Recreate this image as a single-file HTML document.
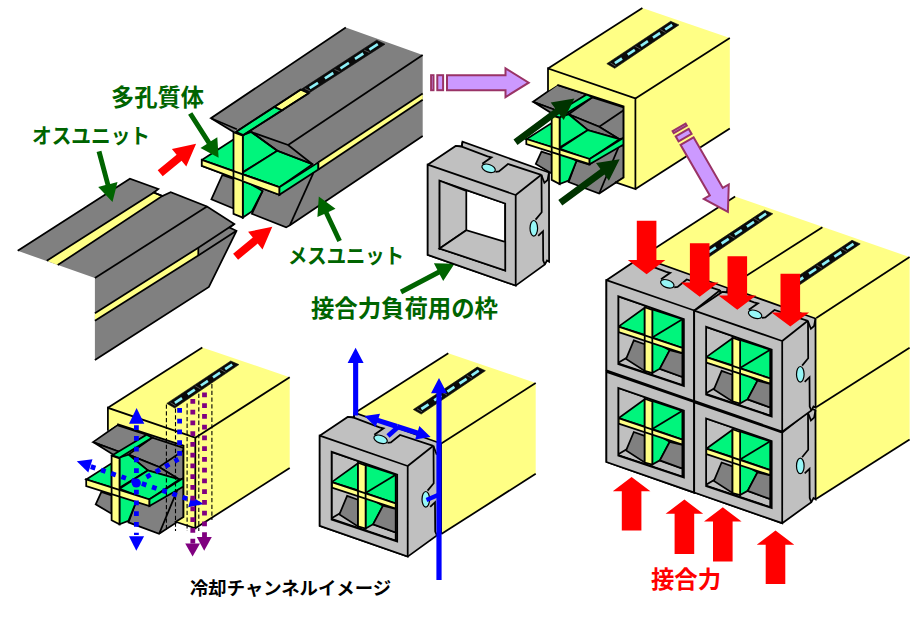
<!DOCTYPE html>
<html><head><meta charset="utf-8"><title>fig</title><style>html,body{margin:0;padding:0;background:#fff;font-family:"Liberation Sans",sans-serif}svg{display:block;position:absolute;left:0;top:0}</style></head><body>
<svg width="923" height="619" viewBox="0 0 923 619" stroke-linejoin="miter" stroke-miterlimit="3">
<rect width="923" height="619" fill="#fff"/>
<polygon points="17.7,250.8 129.9,178.7 158.3,189.0 153.8,192.5 162.3,196.0 170.7,192.3 207.0,206.5 234.3,224.1 229.5,227.5 236.5,230.8 208.9,287.0 94.9,360.0 94.9,278.1" fill="#808080" stroke="none" stroke-width="1.75" />
<polygon points="46.8,260.7 153.8,192.5 162.3,196.0 57.7,265.1" fill="#FFFF85" stroke="none" stroke-width="1.75" />
<polygon points="94.9,313.3 198.3,248.2 198.3,255.5 94.9,320.8" fill="#FFFF85" stroke="none" stroke-width="1.75" />
<polyline points="17.7,250.8 129.9,178.7 158.3,189.0 153.8,192.5 162.3,196.0 170.7,192.3 207.0,206.5 234.3,224.1 229.5,227.5 236.5,230.8 208.9,287.0 94.9,360.0" fill="none" stroke="#000" stroke-width="1.75" />
<polyline points="46.8,260.7 153.8,192.5 162.3,196.0 57.7,265.1" fill="none" stroke="#000" stroke-width="1.75" />
<polyline points="94.9,278.1 207.0,206.5" fill="none" stroke="#000" stroke-width="1.75" />
<polyline points="94.9,313.3 198.3,247.7 234.3,224.1" fill="none" stroke="#000" stroke-width="1.75" />
<polyline points="94.9,320.8 198.3,255.5 236.5,230.8" fill="none" stroke="#000" stroke-width="1.75" />
<polyline points="198.3,247.9 198.3,255.3" fill="none" stroke="#000" stroke-width="1.75" />
<polygon points="288.1,145.0 422.7,55.1 422.7,136.0 289.9,225.2 286.1,227.4 251.9,213.8 259.0,186.0 279.3,190.0 318.4,166.0 318.4,162.3 312.5,164.2" fill="#808080" stroke="none" stroke-width="1.75" />
<polygon points="211.0,118.2 345.8,27.4 422.7,55.1 288.1,145.0 251.3,132.0 242.8,135.1 236.9,129.3" fill="#808080" stroke="none" stroke-width="1.75" />
<polygon points="211.0,118.2 236.9,129.3 234.0,132.2" fill="#787878" stroke="none" stroke-width="1.75" />
<polygon points="251.3,132.0 288.1,145.0 312.5,164.2 277.3,150.8" fill="#787878" stroke="none" stroke-width="1.75" />
<polygon points="222.3,175.0 233.5,178.8 233.5,208.5 211.4,199.3" fill="#808080" stroke="#000" stroke-width="1.75" />
<polygon points="242.8,135.1 251.3,132.0 277.3,150.8 243.7,171.5 242.8,171.0" fill="#00F57C" stroke="#000" stroke-width="1.75" />
<polygon points="201.8,159.9 233.5,139.5 233.5,171.0" fill="#00F57C" stroke="none" stroke-width="1.75" />
<polygon points="242.8,172.5 277.3,150.8 312.5,164.2 279.3,187.2 242.8,174.3" fill="#00F57C" stroke="#000" stroke-width="1.75" />
<polygon points="242.8,179.6 262.6,191.0 251.9,211.5 242.8,217.6" fill="#00F57C" stroke="#000" stroke-width="1.75" />
<polygon points="201.8,159.9 279.3,187.2 279.3,194.8 201.8,165.9" fill="#FFFF85" stroke="#000" stroke-width="1.75" />
<polygon points="279.3,187.2 318.4,162.3 318.4,169.5 279.3,194.8" fill="#00F57C" stroke="#000" stroke-width="1.75" />
<polygon points="318.4,162.3 422.7,93.4 422.7,99.8 318.4,169.5" fill="#FFFF85" stroke="none" stroke-width="1.75" />
<polyline points="318.4,162.3 422.7,93.4" fill="none" stroke="#000" stroke-width="1.75" />
<polyline points="318.4,169.5 422.7,99.8" fill="none" stroke="#000" stroke-width="1.75" />
<polyline points="318.4,162.3 318.4,169.5" fill="none" stroke="#000" stroke-width="1.75" />
<polygon points="235.8,131.9 274.3,106.9 282.1,110.3 243.4,135.1" fill="#00F57C" stroke="#000" stroke-width="1.75" />
<polygon points="274.3,106.9 300.8,89.6 308.7,93.2 282.1,110.3" fill="#FFFF85" stroke="#000" stroke-width="1.75" />
<polygon points="300.8,89.6 376.7,40.2 385.0,44.2 308.7,93.2" fill="#0a0a0a" stroke="#0a0a0a" stroke-width="0.6" />
<polyline points="304.8,88.5 309.9,90.8" fill="none" stroke="#777" stroke-width="0.7" />
<polyline points="334.5,69.4 339.6,71.6" fill="none" stroke="#777" stroke-width="0.7" />
<polyline points="364.2,50.2 369.3,52.4" fill="none" stroke="#777" stroke-width="0.7" />
<polyline points="309.7,88.2 318.0,82.8" fill="none" stroke="#8EF0F8" stroke-width="2.7" />
<polyline points="324.9,78.4 333.3,73.0" fill="none" stroke="#8EF0F8" stroke-width="2.7" />
<polyline points="340.5,68.3 348.9,62.9" fill="none" stroke="#8EF0F8" stroke-width="2.7" />
<polyline points="355.0,58.9 363.3,53.5" fill="none" stroke="#8EF0F8" stroke-width="2.7" />
<polyline points="369.4,49.6 377.8,44.2" fill="none" stroke="#8EF0F8" stroke-width="2.7" />
<polyline points="235.8,131.9 300.8,89.6" fill="none" stroke="#000" stroke-width="1.75" />
<polyline points="243.4,135.1 308.7,93.2" fill="none" stroke="#000" stroke-width="1.75" />
<polygon points="233.5,132.2 242.8,135.7 242.8,217.6 233.5,213.8" fill="#FFFF85" stroke="#000" stroke-width="1.75" />
<polygon points="201.8,159.9 279.3,187.2 279.3,194.8 201.8,165.9" fill="#FFFF85" stroke="#000" stroke-width="1.75" />
<polyline points="233.5,171.0 233.5,177.2" fill="none" stroke="#000" stroke-width="1.75" />
<polyline points="242.8,174.3 242.8,180.5" fill="none" stroke="#000" stroke-width="1.75" />
<polyline points="345.8,27.4 211.0,118.2 236.9,129.3" fill="none" stroke="#000" stroke-width="1.75" />
<polyline points="211.0,118.2 234.0,132.2" fill="none" stroke="#000" stroke-width="1.75" />
<polyline points="251.3,132.0 288.1,145.0 312.5,164.2" fill="none" stroke="#000" stroke-width="1.75" />
<polyline points="251.3,132.0 277.3,150.8 312.5,164.2" fill="none" stroke="#000" stroke-width="1.75" />
<polyline points="288.1,145.0 422.7,55.1" fill="none" stroke="#000" stroke-width="1.75" />
<polyline points="422.7,136.0 289.9,225.2 286.1,227.4 251.9,213.8 262.6,191.0" fill="none" stroke="#000" stroke-width="1.75" />
<polyline points="313.4,172.8 289.9,225.2" fill="none" stroke="#000" stroke-width="1.75" />
<polyline points="201.8,159.9 233.5,139.5" fill="none" stroke="#000" stroke-width="1.75" />
<polygon points="162.7,176.3 181.6,160.8 186.3,166.5 196.1,143.8 171.9,149.0 176.6,154.8 157.7,170.3" fill="#FF0000" stroke="none" stroke-width="1.75" />
<polygon points="238.1,259.7 257.7,243.6 262.5,249.4 272.3,226.7 248.1,231.8 252.8,237.6 233.1,253.7" fill="#FF0000" stroke="none" stroke-width="1.75" />
<polygon points="188.1,114.8 206.8,143.9 200.5,148.0 218.6,157.7 217.3,137.2 210.9,141.2 192.3,112.2" fill="#006400" stroke="none" stroke-width="1.75" />
<polygon points="96.6,151.9 105.5,185.1 98.2,187.1 112.5,201.9 117.5,181.9 110.2,183.9 101.4,150.7" fill="#006400" stroke="none" stroke-width="1.75" />
<polygon points="341.8,240.1 328.6,211.9 335.5,208.7 318.8,196.6 317.4,217.1 324.2,213.9 337.4,242.1" fill="#006400" stroke="none" stroke-width="1.75" />
<polygon points="402.1,294.2 439.7,274.4 443.2,281.0 454.5,263.8 433.9,263.3 437.4,270.0 399.9,289.8" fill="#006400" stroke="none" stroke-width="1.75" />
<g transform="translate(0.0,0.0)" >
<path d="M427.7,164.7 L455.7,146 L461.8,146.3 L462.5,141.8 L549,172.5 L549.1,261.8 L547,260.5 L544.9,264.5 L515.7,285.6 L427.7,254.9 Z M439.6,180.8 L439.6,248.5 L505.2,270.5 L505.2,203.5 Z" fill="#C0C0C0" stroke="#000" stroke-width="1.75" fill-rule="evenodd"/>
<polyline points="455.7,146.0 461.8,146.6 487.5,156.4 491.5,157.3 482.3,163.8" fill="none" stroke="#000" stroke-width="1.75" />
<polyline points="461.8,146.6 462.5,141.8" fill="none" stroke="#000" stroke-width="1.75" />
<polyline points="495.5,171.8 498.9,171.4 508.0,164.0 541.3,174.8" fill="none" stroke="#000" stroke-width="1.75" />
<polyline points="541.3,174.8 544.4,182.8 547.6,180.0 549.0,172.5" fill="none" stroke="#000" stroke-width="1.75" />
<polyline points="541.5,174.8 541.7,212.2 535.6,219.6" fill="none" stroke="#000" stroke-width="1.75" />
<polyline points="538.2,235.8 543.0,231.2 543.2,260.5 544.9,264.5" fill="none" stroke="#000" stroke-width="1.75" />
<polyline points="515.7,195.0 541.3,174.8" fill="none" stroke="#000" stroke-width="1.75" />
<path d="M427.7,164.7 L515.7,195 L515.7,285.6 L427.7,254.9 Z M439.6,180.8 L439.6,248.5 L505.2,270.5 L505.2,203.5 Z" fill="#C0C0C0" stroke="#000" stroke-width="1.75" fill-rule="evenodd"/>
<polygon points="439.6,180.8 466.3,190.9 466.3,230.2 439.6,248.5" fill="#C0C0C0" stroke="#000" stroke-width="1.75" />
<polygon points="439.6,248.5 466.3,230.2 505.2,242.0 505.2,270.5" fill="#C0C0C0" stroke="#000" stroke-width="1.75" />
<ellipse cx="488.6" cy="168.3" rx="7" ry="3.8" transform="rotate(20 488.6 168.3)" fill="#96F6F6" stroke="#000" stroke-width="1.2"/>
<ellipse cx="533.8" cy="228.3" rx="3.8" ry="7.8" fill="#96F6F6" stroke="#000" stroke-width="1.2"/>
</g>
<polygon points="548.0,68.5 642.4,8.1 729.8,38.0 635.4,98.4" fill="#FFFF85" stroke="none" stroke-width="1.75" />
<polygon points="635.4,98.4 729.8,38.0 729.8,128.6 635.4,189.0" fill="#FFFF85" stroke="none" stroke-width="1.75" />
<polyline points="548.0,68.5 642.4,8.1" fill="none" stroke="#000" stroke-width="1.75" />
<polyline points="635.4,98.4 729.8,38.0" fill="none" stroke="#000" stroke-width="1.75" />
<polyline points="729.8,128.6 635.4,189.0" fill="none" stroke="#000" stroke-width="1.75" />
<g transform="translate(0.0,0.0)" >
<polygon points="557.3,84.9 623.6,106.4 623.6,177.6 615.0,183.0 557.3,163.0" fill="#808080" stroke="none" stroke-width="1.75" />
</g>
<g transform="translate(0.0,0.0)" >
<polygon points="533.1,101.8 557.3,84.9 586.7,94.4 560.7,112.0" fill="#808080" stroke="#000" stroke-width="1.75" />
<polygon points="533.1,101.8 560.7,112.0 556.2,116.1" fill="#787878" stroke="#000" stroke-width="1.75" />
<polygon points="568.6,114.3 592.4,97.3 623.6,107.5 623.6,138.0 619.5,139.2 599.2,126.7" fill="#808080" stroke="#000" stroke-width="1.75" />
<polygon points="568.6,114.3 599.2,126.7 619.5,139.2 587.9,130.1" fill="#787878" stroke="#000" stroke-width="1.75" />
<polyline points="599.2,126.7 623.6,110.2" fill="none" stroke="#000" stroke-width="1.75" />
<polygon points="559.6,117.0 568.6,114.3 587.9,130.1 559.6,147.5" fill="#00F57C" stroke="#000" stroke-width="1.75" />
<polygon points="526.3,139.2 551.7,123.0 551.7,147.0" fill="#00F57C" stroke="#000" stroke-width="1.75" />
<polygon points="559.6,148.5 587.9,130.1 619.5,139.2 589.0,159.5" fill="#00F57C" stroke="#000" stroke-width="1.75" />
<polygon points="541.5,151.6 551.7,155.0 551.7,173.5 535.8,164.0" fill="#808080" stroke="#000" stroke-width="1.75" />
<polygon points="576.5,160.7 589.0,164.5 619.5,144.8 623.6,146.0 623.6,177.6 599.2,193.5 568.6,182.1" fill="#808080" stroke="#000" stroke-width="1.75" />
<polyline points="619.5,144.8 599.2,193.5" fill="none" stroke="#000" stroke-width="1.75" />
<polygon points="559.6,152.0 576.5,160.7 568.6,180.5 559.6,184.0" fill="#00F57C" stroke="#000" stroke-width="1.75" />
<polygon points="552.5,115.0 586.7,94.4 592.4,97.3 559.6,117.5" fill="#00F57C" stroke="#000" stroke-width="1.75" />
<polygon points="551.7,115.4 559.6,118.0 559.6,184.0 551.7,179.9" fill="#FFFF85" stroke="#000" stroke-width="1.75" />
<polygon points="526.3,139.0 589.6,159.0 589.6,164.2 526.3,144.2" fill="#FFFF85" stroke="#000" stroke-width="1.75" />
<polygon points="589.6,159.0 623.6,137.8 623.6,144.6 589.6,164.2" fill="#00F57C" stroke="#000" stroke-width="1.75" />
<polyline points="551.7,147.0 551.7,152.6" fill="none" stroke="#000" stroke-width="1.75" />
<polyline points="559.6,149.5 559.6,155.1" fill="none" stroke="#000" stroke-width="1.75" />
</g>
<g transform="translate(0.0,0.0)" >
<path d="M548,68.5 L635.4,98.4 L635.4,189 L615,182.2 L623.6,177.6 L623.6,106.4 L557.3,84.9 L548,91 Z" fill="#FFFF85" stroke="none"/>
<polyline points="548.0,91.4 548.0,68.5 635.4,98.4 635.4,189.0 615.0,182.2" fill="none" stroke="#000" stroke-width="1.75" />
<polyline points="557.3,84.9 623.6,106.4 623.6,177.6 615.0,183.0" fill="none" stroke="#000" stroke-width="1.75" />
</g>
<polygon points="606.8,63.7 670.7,21.3 678.9,24.9 614.7,68.3" fill="#0a0a0a" stroke="#0a0a0a" stroke-width="0.6" />
<polyline points="610.5,63.0 615.5,66.0" fill="none" stroke="#777" stroke-width="0.7" />
<polyline points="635.4,46.3 640.5,49.2" fill="none" stroke="#777" stroke-width="0.7" />
<polyline points="660.4,29.6 665.5,32.5" fill="none" stroke="#777" stroke-width="0.7" />
<polyline points="614.9,63.2 622.0,58.5" fill="none" stroke="#8EF0F8" stroke-width="2.7" />
<polyline points="627.7,54.6 634.8,49.9" fill="none" stroke="#8EF0F8" stroke-width="2.7" />
<polyline points="640.9,45.8 647.9,41.1" fill="none" stroke="#8EF0F8" stroke-width="2.7" />
<polyline points="653.0,37.7 660.1,33.0" fill="none" stroke="#8EF0F8" stroke-width="2.7" />
<polyline points="665.2,29.5 672.2,24.8" fill="none" stroke="#8EF0F8" stroke-width="2.7" />
<polygon points="517.5,144.9 559.2,114.1 563.7,120.1 574.4,98.6 550.7,102.5 555.2,108.6 513.5,139.5" fill="#003300" stroke="none" stroke-width="1.75" />
<polygon points="562.3,205.5 604.5,174.6 608.9,180.7 619.7,159.2 596.0,163.0 600.4,169.1 558.3,200.1" fill="#003300" stroke="none" stroke-width="1.75" />
<g transform="translate(430.1,82.7) rotate(0.0)" fill="#CC99FF" stroke="#993366" stroke-width="2" stroke-miterlimit="6">
<rect x="1" y="-7.5" width="2.4" height="15"/>
<rect x="7.2" y="-7.5" width="5.8" height="15"/>
<polygon points="16.9,-7.5 75.4,-7.5 75.4,-14.4 98.6,0 75.4,14.4 75.4,7.5 16.9,7.5"/>
</g>
<polygon points="107.9,407.8 202.3,347.4 289.7,377.3 195.3,437.7" fill="#FFFF85" stroke="none" stroke-width="1.75" />
<polygon points="195.3,437.7 289.7,377.3 289.7,467.9 195.3,528.3" fill="#FFFF85" stroke="none" stroke-width="1.75" />
<polyline points="107.9,407.8 202.3,347.4" fill="none" stroke="#000" stroke-width="1.75" />
<polyline points="195.3,437.7 289.7,377.3" fill="none" stroke="#000" stroke-width="1.75" />
<polyline points="289.7,467.9 195.3,528.3" fill="none" stroke="#000" stroke-width="1.75" />
<g transform="translate(-440.1,339.3)" >
<polygon points="557.3,84.9 623.6,106.4 623.6,177.6 615.0,183.0 557.3,163.0" fill="#808080" stroke="none" stroke-width="1.75" />
</g>
<g transform="translate(-440.1,340.3)" >
<polygon points="533.1,101.8 557.3,84.9 586.7,94.4 560.7,112.0" fill="#808080" stroke="#000" stroke-width="1.75" />
<polygon points="533.1,101.8 560.7,112.0 556.2,116.1" fill="#787878" stroke="#000" stroke-width="1.75" />
<polygon points="568.6,114.3 592.4,97.3 623.6,107.5 623.6,138.0 619.5,139.2 599.2,126.7" fill="#808080" stroke="#000" stroke-width="1.75" />
<polygon points="568.6,114.3 599.2,126.7 619.5,139.2 587.9,130.1" fill="#787878" stroke="#000" stroke-width="1.75" />
<polyline points="599.2,126.7 623.6,110.2" fill="none" stroke="#000" stroke-width="1.75" />
<polygon points="559.6,117.0 568.6,114.3 587.9,130.1 559.6,147.5" fill="#00F57C" stroke="#000" stroke-width="1.75" />
<polygon points="526.3,139.2 551.7,123.0 551.7,147.0" fill="#00F57C" stroke="#000" stroke-width="1.75" />
<polygon points="559.6,148.5 587.9,130.1 619.5,139.2 589.0,159.5" fill="#00F57C" stroke="#000" stroke-width="1.75" />
<polygon points="541.5,151.6 551.7,155.0 551.7,173.5 535.8,164.0" fill="#808080" stroke="#000" stroke-width="1.75" />
<polygon points="576.5,160.7 589.0,164.5 619.5,144.8 623.6,146.0 623.6,177.6 599.2,193.5 568.6,182.1" fill="#808080" stroke="#000" stroke-width="1.75" />
<polyline points="619.5,144.8 599.2,193.5" fill="none" stroke="#000" stroke-width="1.75" />
<polygon points="559.6,152.0 576.5,160.7 568.6,180.5 559.6,184.0" fill="#00F57C" stroke="#000" stroke-width="1.75" />
<polygon points="552.5,115.0 586.7,94.4 592.4,97.3 559.6,117.5" fill="#00F57C" stroke="#000" stroke-width="1.75" />
<polygon points="551.7,115.4 559.6,118.0 559.6,184.0 551.7,179.9" fill="#FFFF85" stroke="#000" stroke-width="1.75" />
<polygon points="526.3,139.0 589.6,159.0 589.6,165.8 526.3,145.8" fill="#FFFF85" stroke="#000" stroke-width="1.75" />
<polygon points="589.6,159.0 623.6,137.8 623.6,146.2 589.6,165.8" fill="#00F57C" stroke="#000" stroke-width="1.75" />
<polyline points="551.7,147.0 551.7,154.2" fill="none" stroke="#000" stroke-width="1.75" />
<polyline points="559.6,149.5 559.6,156.7" fill="none" stroke="#000" stroke-width="1.75" />
</g>
<g transform="translate(-440.1,339.3)" >
<path d="M548,68.5 L635.4,98.4 L635.4,189 L615,182.2 L623.6,177.6 L623.6,106.4 L557.3,84.9 L548,91 Z" fill="#FFFF85" stroke="none"/>
<polyline points="548.0,91.4 548.0,68.5 635.4,98.4 635.4,189.0 615.0,182.2" fill="none" stroke="#000" stroke-width="1.75" />
<polyline points="557.3,84.9 623.6,106.4 623.6,177.6 615.0,183.0" fill="none" stroke="#000" stroke-width="1.75" />
</g>
<polygon points="166.8,403.4 230.7,361.0 238.9,364.6 174.7,408.0" fill="#0a0a0a" stroke="#0a0a0a" stroke-width="0.6" />
<polyline points="170.5,402.7 175.5,405.7" fill="none" stroke="#777" stroke-width="0.7" />
<polyline points="195.4,386.0 200.5,388.9" fill="none" stroke="#777" stroke-width="0.7" />
<polyline points="220.4,369.3 225.5,372.2" fill="none" stroke="#777" stroke-width="0.7" />
<polyline points="174.9,402.9 182.0,398.2" fill="none" stroke="#8EF0F8" stroke-width="2.7" />
<polyline points="187.7,394.3 194.8,389.6" fill="none" stroke="#8EF0F8" stroke-width="2.7" />
<polyline points="200.9,385.5 207.9,380.8" fill="none" stroke="#8EF0F8" stroke-width="2.7" />
<polyline points="213.0,377.4 220.1,372.7" fill="none" stroke="#8EF0F8" stroke-width="2.7" />
<polyline points="225.2,369.2 232.2,364.5" fill="none" stroke="#8EF0F8" stroke-width="2.7" />
<polyline points="166.4,404.5 166.4,531.0" fill="none" stroke="#000" stroke-width="1.1" stroke-dasharray="4.3 2.4"/>
<polyline points="175.5,408.5 175.5,531.0" fill="none" stroke="#000" stroke-width="1.1" stroke-dasharray="4.3 2.4"/>
<polyline points="187.1,403.5 187.1,531.0" fill="none" stroke="#000" stroke-width="1.1" stroke-dasharray="4.3 2.4"/>
<polyline points="198.8,393.8 198.8,531.0" fill="none" stroke="#000" stroke-width="1.1" stroke-dasharray="4.3 2.4"/>
<polyline points="211.9,384.1 211.9,520.0" fill="none" stroke="#000" stroke-width="1.1" stroke-dasharray="4.3 2.4"/>
<polyline points="136.4,425.3 136.4,535.0" fill="none" stroke="#0000FF" stroke-width="4.8" stroke-dasharray="4.8 5.95"/>
<polygon points="136.6,408.1 144.3,423.8 129.0,423.8" fill="#0000FF" stroke="none" stroke-width="1.75" />
<polygon points="136.3,550.8 144.1,536.2 129.0,536.2" fill="#0000FF" stroke="none" stroke-width="1.75" />
<polyline points="90.8,466.6 192.0,500.3" fill="none" stroke="#0000FF" stroke-width="4.8" stroke-dasharray="4.8 5.95"/>
<polygon points="76.8,461.3 92.5,459.2 88.3,472.6" fill="#0000FF" stroke="none" stroke-width="1.75" />
<polygon points="203.8,504.0 191.2,496.4 188.2,507.2" fill="#0000FF" stroke="none" stroke-width="1.75" />
<polyline points="146.4,477.1 178.4,459.2" fill="none" stroke="#0000FF" stroke-width="4.8" stroke-dasharray="4.8 5.95"/>
<polyline points="179.6,407.9 179.6,457.0" fill="none" stroke="#0000FF" stroke-width="4.8" stroke-dasharray="4.8 5.95"/>
<circle cx="136.3" cy="483" r="4.6" fill="#0000FF"/>
<polyline points="192.8,399.0 192.8,545.0" fill="none" stroke="#800080" stroke-width="4.8" stroke-dasharray="4.8 5.95"/>
<polyline points="204.5,392.5 204.5,540.0" fill="none" stroke="#800080" stroke-width="4.8" stroke-dasharray="4.8 5.95"/>
<polygon points="192.6,556.6 185.2,543.5 200.0,543.5" fill="#800080" stroke="none" stroke-width="1.75" />
<polygon points="204.2,550.8 196.8,537.0 211.8,537.0" fill="#800080" stroke="none" stroke-width="1.75" />
<polygon points="353.9,413.6 448.3,353.2 535.7,383.1 441.3,443.5" fill="#FFFF85" stroke="none" stroke-width="1.75" />
<polygon points="441.3,443.5 535.7,383.1 535.7,473.7 441.3,534.1" fill="#FFFF85" stroke="none" stroke-width="1.75" />
<polygon points="353.9,413.6 441.3,443.5 441.3,534.1 353.9,504.2" fill="#FFFF85" stroke="none" stroke-width="1.75" />
<polyline points="353.9,413.6 448.3,353.2" fill="none" stroke="#000" stroke-width="1.75" />
<polyline points="441.3,443.5 535.7,383.1" fill="none" stroke="#000" stroke-width="1.75" />
<polyline points="535.7,473.7 441.3,534.1" fill="none" stroke="#000" stroke-width="1.75" />
<polygon points="413.3,409.5 477.2,367.1 485.4,370.7 421.2,414.1" fill="#0a0a0a" stroke="#0a0a0a" stroke-width="0.6" />
<polyline points="417.0,408.8 422.0,411.8" fill="none" stroke="#777" stroke-width="0.7" />
<polyline points="441.9,392.1 447.0,395.0" fill="none" stroke="#777" stroke-width="0.7" />
<polyline points="466.9,375.4 472.0,378.3" fill="none" stroke="#777" stroke-width="0.7" />
<polyline points="421.4,409.0 428.5,404.3" fill="none" stroke="#8EF0F8" stroke-width="2.7" />
<polyline points="434.2,400.4 441.3,395.7" fill="none" stroke="#8EF0F8" stroke-width="2.7" />
<polyline points="447.4,391.6 454.4,386.9" fill="none" stroke="#8EF0F8" stroke-width="2.7" />
<polyline points="459.5,383.5 466.6,378.8" fill="none" stroke="#8EF0F8" stroke-width="2.7" />
<polyline points="471.7,375.3 478.7,370.6" fill="none" stroke="#8EF0F8" stroke-width="2.7" />
<g transform="translate(-286.7,155.5)" >
<polygon points="617.4,296.1 682.4,317.9 682.4,385.0 617.4,363.2" fill="#C0C0C0" stroke="none" stroke-width="1.75" />
<polygon points="617.4,363.2 627.2,357.4 682.4,377.0 682.4,385.0" fill="#C0C0C0" stroke="#000" stroke-width="1.75" />
<polygon points="618.5,326.6 644.7,307.7 644.7,334.9" fill="#00F57C" stroke="#000" stroke-width="1.75" />
<polygon points="652.3,309.4 682.4,319.2 682.4,348.0 652.3,337.5" fill="#00F57C" stroke="#000" stroke-width="1.75" />
<polyline points="652.3,337.5 682.4,319.2" fill="none" stroke="#000" stroke-width="1.75" />
<polygon points="633.8,340.4 644.7,344.3 644.7,370.9 626.1,358.9" fill="#808080" stroke="#000" stroke-width="1.75" />
<polygon points="652.3,340.4 669.7,350.2 659.9,368.7 652.3,373.0" fill="#00F57C" stroke="#000" stroke-width="1.75" />
<polygon points="669.7,350.2 682.4,353.4 682.4,377.0 659.9,368.7" fill="#808080" stroke="#000" stroke-width="1.75" />
<polygon points="644.7,307.2 652.3,309.9 652.3,373.0 644.7,370.9" fill="#FFFF85" stroke="#000" stroke-width="1.75" />
<polygon points="618.5,326.6 682.4,348.0 682.4,353.0 618.5,332.1" fill="#FFFF85" stroke="#000" stroke-width="1.75" />
<polyline points="644.7,335.3 644.7,341.0" fill="none" stroke="#000" stroke-width="1.75" />
<polyline points="652.3,338.0 652.3,343.4" fill="none" stroke="#000" stroke-width="1.75" />
</g>
<g transform="translate(-108.0,271.0)" >
<path d="M427.7,164.7 L455.7,146 L461.8,146.3 L462.5,141.8 L549,172.5 L549.1,261.8 L547,260.5 L544.9,264.5 L515.7,285.6 L427.7,254.9 Z M439.6,180.8 L439.6,248.5 L505.2,270.5 L505.2,203.5 Z" fill="#C0C0C0" stroke="#000" stroke-width="1.75" fill-rule="evenodd"/>
<polyline points="455.7,146.0 461.8,146.6 487.5,156.4 491.5,157.3 482.3,163.8" fill="none" stroke="#000" stroke-width="1.75" />
<polyline points="461.8,146.6 462.5,141.8" fill="none" stroke="#000" stroke-width="1.75" />
<polyline points="495.5,171.8 498.9,171.4 508.0,164.0 541.3,174.8" fill="none" stroke="#000" stroke-width="1.75" />
<polyline points="541.3,174.8 544.4,182.8 547.6,180.0 549.0,172.5" fill="none" stroke="#000" stroke-width="1.75" />
<polyline points="541.5,174.8 541.7,212.2 535.6,219.6" fill="none" stroke="#000" stroke-width="1.75" />
<polyline points="538.2,235.8 543.0,231.2 543.2,260.5 544.9,264.5" fill="none" stroke="#000" stroke-width="1.75" />
<polyline points="515.7,195.0 541.3,174.8" fill="none" stroke="#000" stroke-width="1.75" />
<path d="M427.7,164.7 L515.7,195 L515.7,285.6 L427.7,254.9 Z M439.6,180.8 L439.6,248.5 L505.2,270.5 L505.2,203.5 Z" fill="#C0C0C0" stroke="#000" stroke-width="1.75" fill-rule="evenodd"/>
<ellipse cx="488.6" cy="168.3" rx="7" ry="3.8" transform="rotate(20 488.6 168.3)" fill="#96F6F6" stroke="#000" stroke-width="1.2"/>
<ellipse cx="533.8" cy="228.3" rx="3.8" ry="7.8" fill="#96F6F6" stroke="#000" stroke-width="1.2"/>
</g>
<polygon points="358.2,415.4 358.2,363.0 363.6,363.0 355.6,347.8 347.6,363.0 353.1,363.0 353.1,415.4" fill="#0000FF" stroke="none" stroke-width="1.75" />
<polygon points="441.6,580.0 441.6,393.3 447.0,393.3 439.0,378.1 431.0,393.3 436.4,393.3 436.4,580.0" fill="#0000FF" stroke="none" stroke-width="1.75" />
<polygon points="397.8,424.1 378.6,417.9 380.0,413.7 364.5,416.1 375.7,427.0 377.1,422.8 396.2,428.9" fill="#0000FF" stroke="none" stroke-width="1.75" />
<polygon points="396.2,428.9 416.5,435.3 415.1,439.5 430.6,437.0 419.3,426.1 418.0,430.4 397.8,424.1" fill="#0000FF" stroke="none" stroke-width="1.75" />
<polyline points="397.5,427.5 388.0,436.0" fill="none" stroke="#0000FF" stroke-width="4.7" />
<polyline points="426.5,500.0 438.0,495.0" fill="none" stroke="#0000FF" stroke-width="4.2" />
<polygon points="640.0,258.0 735.1,196.5 909.6,257.1 816.3,318.1" fill="#FFFF85" stroke="none" stroke-width="1.75" />
<polygon points="816.3,318.1 909.6,257.1 909.6,439.5 816.0,499.0" fill="#FFFF85" stroke="none" stroke-width="1.75" />
<polyline points="640.0,258.0 735.1,196.5" fill="none" stroke="#000" stroke-width="1.75" />
<polyline points="816.3,318.1 909.6,257.1" fill="none" stroke="#000" stroke-width="1.75" />
<polyline points="909.6,439.5 816.0,499.0" fill="none" stroke="#000" stroke-width="1.75" />
<polyline points="816.1,407.2 909.6,347.8" fill="none" stroke="#000" stroke-width="1.75" />
<polyline points="822.4,227.3 735.0,283.0" fill="none" stroke="#000" stroke-width="1.75" />
<g transform="translate(678.6,126.4) rotate(60.0)" fill="#CC99FF" stroke="#993366" stroke-width="2" stroke-miterlimit="6">
<rect x="1" y="-7.5" width="2.4" height="15"/>
<rect x="7.2" y="-7.5" width="5.8" height="15"/>
<polygon points="16.9,-7.5 75.4,-7.5 75.4,-14.4 98.6,0 75.4,14.4 75.4,7.5 16.9,7.5"/>
</g>
<polygon points="700.7,252.6 764.6,210.2 772.8,213.8 708.6,257.2" fill="#0a0a0a" stroke="#0a0a0a" stroke-width="0.6" />
<polyline points="704.4,251.9 709.4,254.9" fill="none" stroke="#777" stroke-width="0.7" />
<polyline points="729.3,235.2 734.4,238.1" fill="none" stroke="#777" stroke-width="0.7" />
<polyline points="754.3,218.5 759.4,221.4" fill="none" stroke="#777" stroke-width="0.7" />
<polyline points="708.8,252.1 715.9,247.4" fill="none" stroke="#8EF0F8" stroke-width="2.7" />
<polyline points="721.6,243.5 728.7,238.8" fill="none" stroke="#8EF0F8" stroke-width="2.7" />
<polyline points="734.8,234.7 741.8,230.0" fill="none" stroke="#8EF0F8" stroke-width="2.7" />
<polyline points="746.9,226.6 754.0,221.9" fill="none" stroke="#8EF0F8" stroke-width="2.7" />
<polyline points="759.1,218.4 766.1,213.7" fill="none" stroke="#8EF0F8" stroke-width="2.7" />
<polygon points="788.1,282.7 852.0,240.3 860.2,243.9 796.0,287.3" fill="#0a0a0a" stroke="#0a0a0a" stroke-width="0.6" />
<polyline points="791.8,282.0 796.8,285.0" fill="none" stroke="#777" stroke-width="0.7" />
<polyline points="816.7,265.3 821.8,268.2" fill="none" stroke="#777" stroke-width="0.7" />
<polyline points="841.7,248.6 846.8,251.5" fill="none" stroke="#777" stroke-width="0.7" />
<polyline points="796.2,282.2 803.3,277.5" fill="none" stroke="#8EF0F8" stroke-width="2.7" />
<polyline points="809.0,273.6 816.1,268.9" fill="none" stroke="#8EF0F8" stroke-width="2.7" />
<polyline points="822.2,264.8 829.2,260.1" fill="none" stroke="#8EF0F8" stroke-width="2.7" />
<polyline points="834.3,256.7 841.4,252.0" fill="none" stroke="#8EF0F8" stroke-width="2.7" />
<polyline points="846.5,248.5 853.5,243.8" fill="none" stroke="#8EF0F8" stroke-width="2.7" />
<g transform="translate(0.0,91.6)" >
<polygon points="617.4,296.1 682.4,317.9 682.4,385.0 617.4,363.2" fill="#C0C0C0" stroke="none" stroke-width="1.75" />
<polygon points="617.4,363.2 627.2,357.4 682.4,377.0 682.4,385.0" fill="#C0C0C0" stroke="#000" stroke-width="1.75" />
<polygon points="618.5,326.6 644.7,307.7 644.7,334.9" fill="#00F57C" stroke="#000" stroke-width="1.75" />
<polygon points="652.3,309.4 682.4,319.2 682.4,348.0 652.3,337.5" fill="#00F57C" stroke="#000" stroke-width="1.75" />
<polyline points="652.3,337.5 682.4,319.2" fill="none" stroke="#000" stroke-width="1.75" />
<polygon points="633.8,340.4 644.7,344.3 644.7,370.9 626.1,358.9" fill="#808080" stroke="#000" stroke-width="1.75" />
<polygon points="652.3,340.4 669.7,350.2 659.9,368.7 652.3,373.0" fill="#00F57C" stroke="#000" stroke-width="1.75" />
<polygon points="669.7,350.2 682.4,353.4 682.4,377.0 659.9,368.7" fill="#808080" stroke="#000" stroke-width="1.75" />
<polygon points="644.7,307.2 652.3,309.9 652.3,373.0 644.7,370.9" fill="#FFFF85" stroke="#000" stroke-width="1.75" />
<polygon points="618.5,326.6 682.4,348.0 682.4,353.0 618.5,332.1" fill="#FFFF85" stroke="#000" stroke-width="1.75" />
<polyline points="644.7,335.3 644.7,341.0" fill="none" stroke="#000" stroke-width="1.75" />
<polyline points="652.3,338.0 652.3,343.4" fill="none" stroke="#000" stroke-width="1.75" />
</g>
<g transform="translate(178.7,207.1)" >
<path d="M427.7,164.7 L455.7,146 L461.8,146.3 L462.5,141.8 L549,172.5 L549.1,261.8 L547,260.5 L544.9,264.5 L515.7,285.6 L427.7,254.9 Z M439.6,180.8 L439.6,248.5 L505.2,270.5 L505.2,203.5 Z" fill="#C0C0C0" stroke="#000" stroke-width="1.75" fill-rule="evenodd"/>
<polyline points="455.7,146.0 461.8,146.6 487.5,156.4 491.5,157.3 482.3,163.8" fill="none" stroke="#000" stroke-width="1.75" />
<polyline points="461.8,146.6 462.5,141.8" fill="none" stroke="#000" stroke-width="1.75" />
<polyline points="495.5,171.8 498.9,171.4 508.0,164.0 541.3,174.8" fill="none" stroke="#000" stroke-width="1.75" />
<polyline points="541.3,174.8 544.4,182.8 547.6,180.0 549.0,172.5" fill="none" stroke="#000" stroke-width="1.75" />
<polyline points="541.5,174.8 541.7,212.2 535.6,219.6" fill="none" stroke="#000" stroke-width="1.75" />
<polyline points="538.2,235.8 543.0,231.2 543.2,260.5 544.9,264.5" fill="none" stroke="#000" stroke-width="1.75" />
<polyline points="515.7,195.0 541.3,174.8" fill="none" stroke="#000" stroke-width="1.75" />
<path d="M427.7,164.7 L515.7,195 L515.7,285.6 L427.7,254.9 Z M439.6,180.8 L439.6,248.5 L505.2,270.5 L505.2,203.5 Z" fill="#C0C0C0" stroke="#000" stroke-width="1.75" fill-rule="evenodd"/>
<ellipse cx="488.6" cy="168.3" rx="7" ry="3.8" transform="rotate(20 488.6 168.3)" fill="#96F6F6" stroke="#000" stroke-width="1.2"/>
<ellipse cx="533.8" cy="228.3" rx="3.8" ry="7.8" fill="#96F6F6" stroke="#000" stroke-width="1.2"/>
</g>
<g transform="translate(87.8,122.1)" >
<polygon points="617.4,296.1 682.4,317.9 682.4,385.0 617.4,363.2" fill="#C0C0C0" stroke="none" stroke-width="1.75" />
<polygon points="617.4,363.2 627.2,357.4 682.4,377.0 682.4,385.0" fill="#C0C0C0" stroke="#000" stroke-width="1.75" />
<polygon points="618.5,326.6 644.7,307.7 644.7,334.9" fill="#00F57C" stroke="#000" stroke-width="1.75" />
<polygon points="652.3,309.4 682.4,319.2 682.4,348.0 652.3,337.5" fill="#00F57C" stroke="#000" stroke-width="1.75" />
<polyline points="652.3,337.5 682.4,319.2" fill="none" stroke="#000" stroke-width="1.75" />
<polygon points="633.8,340.4 644.7,344.3 644.7,370.9 626.1,358.9" fill="#808080" stroke="#000" stroke-width="1.75" />
<polygon points="652.3,340.4 669.7,350.2 659.9,368.7 652.3,373.0" fill="#00F57C" stroke="#000" stroke-width="1.75" />
<polygon points="669.7,350.2 682.4,353.4 682.4,377.0 659.9,368.7" fill="#808080" stroke="#000" stroke-width="1.75" />
<polygon points="644.7,307.2 652.3,309.9 652.3,373.0 644.7,370.9" fill="#FFFF85" stroke="#000" stroke-width="1.75" />
<polygon points="618.5,326.6 682.4,348.0 682.4,353.0 618.5,332.1" fill="#FFFF85" stroke="#000" stroke-width="1.75" />
<polyline points="644.7,335.3 644.7,341.0" fill="none" stroke="#000" stroke-width="1.75" />
<polyline points="652.3,338.0 652.3,343.4" fill="none" stroke="#000" stroke-width="1.75" />
</g>
<g transform="translate(266.5,237.6)" >
<path d="M427.7,164.7 L455.7,146 L461.8,146.3 L462.5,141.8 L549,172.5 L549.1,261.8 L547,260.5 L544.9,264.5 L515.7,285.6 L427.7,254.9 Z M439.6,180.8 L439.6,248.5 L505.2,270.5 L505.2,203.5 Z" fill="#C0C0C0" stroke="#000" stroke-width="1.75" fill-rule="evenodd"/>
<polyline points="455.7,146.0 461.8,146.6 487.5,156.4 491.5,157.3 482.3,163.8" fill="none" stroke="#000" stroke-width="1.75" />
<polyline points="461.8,146.6 462.5,141.8" fill="none" stroke="#000" stroke-width="1.75" />
<polyline points="495.5,171.8 498.9,171.4 508.0,164.0 541.3,174.8" fill="none" stroke="#000" stroke-width="1.75" />
<polyline points="541.3,174.8 544.4,182.8 547.6,180.0 549.0,172.5" fill="none" stroke="#000" stroke-width="1.75" />
<polyline points="541.5,174.8 541.7,212.2 535.6,219.6" fill="none" stroke="#000" stroke-width="1.75" />
<polyline points="538.2,235.8 543.0,231.2 543.2,260.5 544.9,264.5" fill="none" stroke="#000" stroke-width="1.75" />
<polyline points="515.7,195.0 541.3,174.8" fill="none" stroke="#000" stroke-width="1.75" />
<path d="M427.7,164.7 L515.7,195 L515.7,285.6 L427.7,254.9 Z M439.6,180.8 L439.6,248.5 L505.2,270.5 L505.2,203.5 Z" fill="#C0C0C0" stroke="#000" stroke-width="1.75" fill-rule="evenodd"/>
<ellipse cx="488.6" cy="168.3" rx="7" ry="3.8" transform="rotate(20 488.6 168.3)" fill="#96F6F6" stroke="#000" stroke-width="1.2"/>
<ellipse cx="533.8" cy="228.3" rx="3.8" ry="7.8" fill="#96F6F6" stroke="#000" stroke-width="1.2"/>
</g>
<g transform="translate(0.0,0.0)" >
<polygon points="617.4,296.1 682.4,317.9 682.4,385.0 617.4,363.2" fill="#C0C0C0" stroke="none" stroke-width="1.75" />
<polygon points="617.4,363.2 627.2,357.4 682.4,377.0 682.4,385.0" fill="#C0C0C0" stroke="#000" stroke-width="1.75" />
<polygon points="618.5,326.6 644.7,307.7 644.7,334.9" fill="#00F57C" stroke="#000" stroke-width="1.75" />
<polygon points="652.3,309.4 682.4,319.2 682.4,348.0 652.3,337.5" fill="#00F57C" stroke="#000" stroke-width="1.75" />
<polyline points="652.3,337.5 682.4,319.2" fill="none" stroke="#000" stroke-width="1.75" />
<polygon points="633.8,340.4 644.7,344.3 644.7,370.9 626.1,358.9" fill="#808080" stroke="#000" stroke-width="1.75" />
<polygon points="652.3,340.4 669.7,350.2 659.9,368.7 652.3,373.0" fill="#00F57C" stroke="#000" stroke-width="1.75" />
<polygon points="669.7,350.2 682.4,353.4 682.4,377.0 659.9,368.7" fill="#808080" stroke="#000" stroke-width="1.75" />
<polygon points="644.7,307.2 652.3,309.9 652.3,373.0 644.7,370.9" fill="#FFFF85" stroke="#000" stroke-width="1.75" />
<polygon points="618.5,326.6 682.4,348.0 682.4,353.0 618.5,332.1" fill="#FFFF85" stroke="#000" stroke-width="1.75" />
<polyline points="644.7,335.3 644.7,341.0" fill="none" stroke="#000" stroke-width="1.75" />
<polyline points="652.3,338.0 652.3,343.4" fill="none" stroke="#000" stroke-width="1.75" />
</g>
<g transform="translate(178.7,115.5)" >
<path d="M427.7,164.7 L455.7,146 L461.8,146.3 L462.5,141.8 L549,172.5 L549.1,261.8 L547,260.5 L544.9,264.5 L515.7,285.6 L427.7,254.9 Z M439.6,180.8 L439.6,248.5 L505.2,270.5 L505.2,203.5 Z" fill="#C0C0C0" stroke="#000" stroke-width="1.75" fill-rule="evenodd"/>
<polyline points="455.7,146.0 461.8,146.6 487.5,156.4 491.5,157.3 482.3,163.8" fill="none" stroke="#000" stroke-width="1.75" />
<polyline points="461.8,146.6 462.5,141.8" fill="none" stroke="#000" stroke-width="1.75" />
<polyline points="495.5,171.8 498.9,171.4 508.0,164.0 541.3,174.8" fill="none" stroke="#000" stroke-width="1.75" />
<polyline points="541.3,174.8 544.4,182.8 547.6,180.0 549.0,172.5" fill="none" stroke="#000" stroke-width="1.75" />
<polyline points="541.5,174.8 541.7,212.2 535.6,219.6" fill="none" stroke="#000" stroke-width="1.75" />
<polyline points="538.2,235.8 543.0,231.2 543.2,260.5 544.9,264.5" fill="none" stroke="#000" stroke-width="1.75" />
<polyline points="515.7,195.0 541.3,174.8" fill="none" stroke="#000" stroke-width="1.75" />
<path d="M427.7,164.7 L515.7,195 L515.7,285.6 L427.7,254.9 Z M439.6,180.8 L439.6,248.5 L505.2,270.5 L505.2,203.5 Z" fill="#C0C0C0" stroke="#000" stroke-width="1.75" fill-rule="evenodd"/>
<ellipse cx="488.6" cy="168.3" rx="7" ry="3.8" transform="rotate(20 488.6 168.3)" fill="#96F6F6" stroke="#000" stroke-width="1.2"/>
<ellipse cx="533.8" cy="228.3" rx="3.8" ry="7.8" fill="#96F6F6" stroke="#000" stroke-width="1.2"/>
</g>
<g transform="translate(87.8,30.5)" >
<polygon points="617.4,296.1 682.4,317.9 682.4,385.0 617.4,363.2" fill="#C0C0C0" stroke="none" stroke-width="1.75" />
<polygon points="617.4,363.2 627.2,357.4 682.4,377.0 682.4,385.0" fill="#C0C0C0" stroke="#000" stroke-width="1.75" />
<polygon points="618.5,326.6 644.7,307.7 644.7,334.9" fill="#00F57C" stroke="#000" stroke-width="1.75" />
<polygon points="652.3,309.4 682.4,319.2 682.4,348.0 652.3,337.5" fill="#00F57C" stroke="#000" stroke-width="1.75" />
<polyline points="652.3,337.5 682.4,319.2" fill="none" stroke="#000" stroke-width="1.75" />
<polygon points="633.8,340.4 644.7,344.3 644.7,370.9 626.1,358.9" fill="#808080" stroke="#000" stroke-width="1.75" />
<polygon points="652.3,340.4 669.7,350.2 659.9,368.7 652.3,373.0" fill="#00F57C" stroke="#000" stroke-width="1.75" />
<polygon points="669.7,350.2 682.4,353.4 682.4,377.0 659.9,368.7" fill="#808080" stroke="#000" stroke-width="1.75" />
<polygon points="644.7,307.2 652.3,309.9 652.3,373.0 644.7,370.9" fill="#FFFF85" stroke="#000" stroke-width="1.75" />
<polygon points="618.5,326.6 682.4,348.0 682.4,353.0 618.5,332.1" fill="#FFFF85" stroke="#000" stroke-width="1.75" />
<polyline points="644.7,335.3 644.7,341.0" fill="none" stroke="#000" stroke-width="1.75" />
<polyline points="652.3,338.0 652.3,343.4" fill="none" stroke="#000" stroke-width="1.75" />
</g>
<g transform="translate(266.5,146.0)" >
<path d="M427.7,164.7 L455.7,146 L461.8,146.3 L462.5,141.8 L549,172.5 L549.1,261.8 L547,260.5 L544.9,264.5 L515.7,285.6 L427.7,254.9 Z M439.6,180.8 L439.6,248.5 L505.2,270.5 L505.2,203.5 Z" fill="#C0C0C0" stroke="#000" stroke-width="1.75" fill-rule="evenodd"/>
<polyline points="455.7,146.0 461.8,146.6 487.5,156.4 491.5,157.3 482.3,163.8" fill="none" stroke="#000" stroke-width="1.75" />
<polyline points="461.8,146.6 462.5,141.8" fill="none" stroke="#000" stroke-width="1.75" />
<polyline points="495.5,171.8 498.9,171.4 508.0,164.0 541.3,174.8" fill="none" stroke="#000" stroke-width="1.75" />
<polyline points="541.3,174.8 544.4,182.8 547.6,180.0 549.0,172.5" fill="none" stroke="#000" stroke-width="1.75" />
<polyline points="541.5,174.8 541.7,212.2 535.6,219.6" fill="none" stroke="#000" stroke-width="1.75" />
<polyline points="538.2,235.8 543.0,231.2 543.2,260.5 544.9,264.5" fill="none" stroke="#000" stroke-width="1.75" />
<polyline points="515.7,195.0 541.3,174.8" fill="none" stroke="#000" stroke-width="1.75" />
<path d="M427.7,164.7 L515.7,195 L515.7,285.6 L427.7,254.9 Z M439.6,180.8 L439.6,248.5 L505.2,270.5 L505.2,203.5 Z" fill="#C0C0C0" stroke="#000" stroke-width="1.75" fill-rule="evenodd"/>
<ellipse cx="488.6" cy="168.3" rx="7" ry="3.8" transform="rotate(20 488.6 168.3)" fill="#96F6F6" stroke="#000" stroke-width="1.2"/>
<ellipse cx="533.8" cy="228.3" rx="3.8" ry="7.8" fill="#96F6F6" stroke="#000" stroke-width="1.2"/>
</g>
<polygon points="636.8,220.8 656.4,220.8 656.4,260.0 665.4,260.0 646.6,274.2 627.8,260.0 636.8,260.0" fill="#FF0000" stroke="none" stroke-width="1.75" />
<polygon points="689.9,243.3 709.5,243.3 709.5,282.5 718.5,282.5 699.7,296.7 680.9,282.5 689.9,282.5" fill="#FF0000" stroke="none" stroke-width="1.75" />
<polygon points="727.5,256.3 747.1,256.3 747.1,295.5 756.1,295.5 737.3,309.7 718.5,295.5 727.5,295.5" fill="#FF0000" stroke="none" stroke-width="1.75" />
<polygon points="780.5,273.8 800.1,273.8 800.1,312.4 809.1,312.4 790.3,326.6 771.5,312.4 780.5,312.4" fill="#FF0000" stroke="none" stroke-width="1.75" />
<polygon points="621.8,530.6 641.4,530.6 641.4,491.3 650.4,491.3 631.6,477.1 612.8,491.3 621.8,491.3" fill="#FF0000" stroke="none" stroke-width="1.75" />
<polygon points="674.6,553.9 694.2,553.9 694.2,513.8 703.2,513.8 684.4,499.6 665.6,513.8 674.6,513.8" fill="#FF0000" stroke="none" stroke-width="1.75" />
<polygon points="713.0,561.6 732.6,561.6 732.6,521.5 741.6,521.5 722.8,507.3 704.0,521.5 713.0,521.5" fill="#FF0000" stroke="none" stroke-width="1.75" />
<polygon points="765.7,584.1 785.3,584.1 785.3,544.8 794.3,544.8 775.5,530.6 756.7,544.8 765.7,544.8" fill="#FF0000" stroke="none" stroke-width="1.75" />
<text x="111" y="105.5" font-family="&quot;Liberation Sans&quot;, &quot;Noto Sans CJK JP&quot;, sans-serif" font-size="23.5" font-weight="bold" fill="#006400" textLength="93" lengthAdjust="spacingAndGlyphs">多孔質体</text>
<text x="32" y="142.5" font-family="&quot;Liberation Sans&quot;, &quot;Noto Sans CJK JP&quot;, sans-serif" font-size="21" font-weight="bold" fill="#006400" textLength="118" lengthAdjust="spacingAndGlyphs">オスユニット</text>
<text x="288" y="263" font-family="&quot;Liberation Sans&quot;, &quot;Noto Sans CJK JP&quot;, sans-serif" font-size="21" font-weight="bold" fill="#006400" textLength="116" lengthAdjust="spacingAndGlyphs">メスユニット</text>
<text x="311" y="317" font-family="&quot;Liberation Sans&quot;, &quot;Noto Sans CJK JP&quot;, sans-serif" font-size="23.5" font-weight="bold" fill="#006400" textLength="187" lengthAdjust="spacingAndGlyphs">接合力負荷用の枠</text>
<text x="651" y="588" font-family="&quot;Liberation Sans&quot;, &quot;Noto Sans CJK JP&quot;, sans-serif" font-size="23.5" font-weight="bold" fill="#FF0000" textLength="70" lengthAdjust="spacingAndGlyphs">接合力</text>
<text x="190" y="595" font-family="&quot;Liberation Sans&quot;, &quot;Noto Sans CJK JP&quot;, sans-serif" font-size="18" font-weight="bold" fill="#000" textLength="201" lengthAdjust="spacingAndGlyphs">冷却チャンネルイメージ</text>
</svg>
</body></html>
